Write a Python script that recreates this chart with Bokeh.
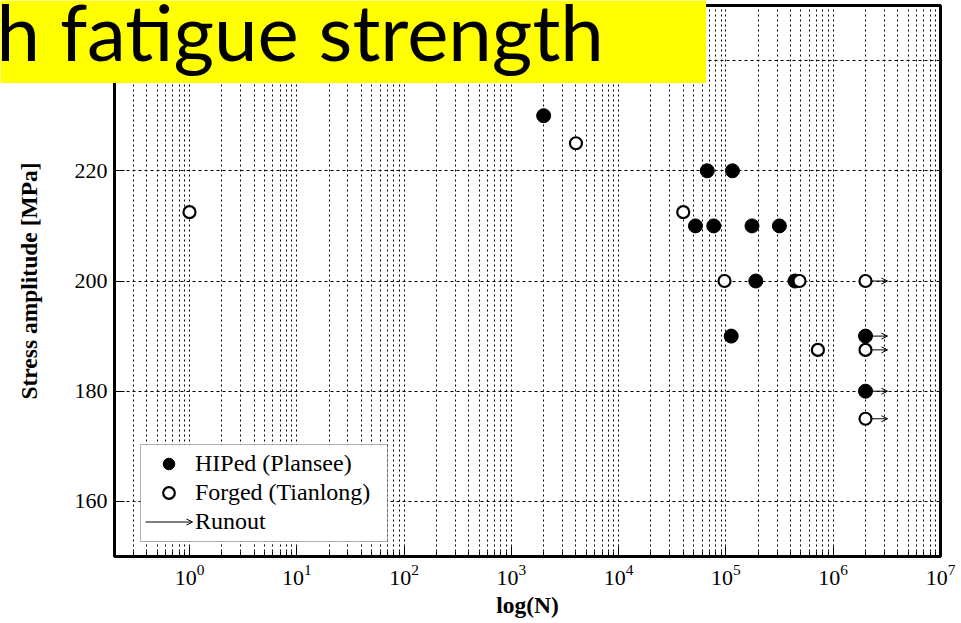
from bokeh.plotting import figure
from bokeh.layouts import column
from bokeh.models import (ColumnDataSource, FixedTicker, Legend, LegendItem,
                          Arrow, OpenHead, Label, Range1d, BoxAnnotation)
from bokeh.embed import file_html
from bokeh.resources import INLINE

# ---------------- data ----------------
hiped_n = [2.0e3, 6.7e4, 1.15e5, 5.2e4, 7.7e4, 1.75e5, 3.15e5, 1.9e5, 4.4e5, 1.12e5]
hiped_s = [230, 220, 220, 210, 210, 210, 210, 200, 200, 190]
hiped_runout_n = [2.0e6, 2.0e6]
hiped_runout_s = [190, 180]

forged_n = [1.0, 4.0e3, 4.0e4, 9.7e4, 4.85e5, 7.2e5]
forged_s = [212.5, 225, 212.5, 200, 200, 187.5]
forged_runout_n = [2.0e6, 2.0e6, 2.0e6]
forged_runout_s = [200, 187.5, 175]

y_ticks = [160, 180, 200, 220, 240]
x_decades = [0, 1, 2, 3, 4, 5, 6, 7]

title_text = "h fatigue strength"
x_label = "log(N)"
y_label = "Stress amplitude [MPa]"
legend_labels = ["HIPed (Plansee)", "Forged (Tianlong)", "Runout"]

# ---------------- styles ----------------
SERIF = "Liberation Serif"
ARROW_FACTOR = 1.6          # runout arrow length (log space), style only
W, H = 961, 623
BL, BR, BT, BB = 114, 21, 5, 67

major_x = [10.0 ** d for d in x_decades]
minor_x = [k * 10.0 ** d for d in range(-1, 7) for k in range(2, 10)]

p = figure(width=W, height=H, x_axis_type="log",
           x_range=Range1d(0.2, 1e7), y_range=Range1d(150, 250),
           output_backend="svg", toolbar_location=None,
           min_border_left=BL, min_border_right=BR,
           min_border_top=BT, min_border_bottom=BB)
p.background_fill_color = "white"
p.border_fill_color = "white"
p.outline_line_color = "black"
p.outline_line_width = 3
try:
    p.frame_align = False
except Exception:
    pass

xt = FixedTicker(ticks=major_x, minor_ticks=minor_x)
p.xaxis.ticker = xt
p.xgrid.ticker = xt
p.yaxis.ticker = FixedTicker(ticks=y_ticks)
p.ygrid.ticker = FixedTicker(ticks=y_ticks)

g = p.xgrid[0]
g.grid_line_color = "black"
g.grid_line_dash = "2 3"
g.grid_line_width = 1
g.minor_grid_line_color = "black"
g.minor_grid_line_dash = "2 3"
g.minor_grid_line_width = 1
p.ygrid.grid_line_color = "black"
p.ygrid.grid_line_dash = "3 3"
p.ygrid.grid_line_width = 1

ax = p.xaxis[0]
ax.axis_line_color = None
ax.major_tick_in = 10
ax.major_tick_out = 0
ax.minor_tick_in = 5
ax.minor_tick_out = 0
ax.major_tick_line_color = "black"
ax.minor_tick_line_color = "black"
ax.major_label_text_font = SERIF
ax.major_label_text_font_size = "22px"
ax.major_label_text_color = "black"
ax.major_label_standoff = 8
ax.axis_label = x_label
ax.axis_label_text_font = SERIF
ax.axis_label_text_font_style = "bold"
ax.axis_label_text_font_size = "23.5px"
ax.axis_label_text_color = "black"
ax.axis_label_standoff = 4

ay = p.yaxis[0]
ay.axis_line_color = None
ay.major_tick_in = 10
ay.major_tick_out = 0
ay.minor_tick_line_color = None
ay.major_label_text_font = SERIF
ay.major_label_text_font_size = "22px"
ay.major_label_text_color = "black"
ay.major_label_standoff = 7
ay.axis_label = y_label
ay.axis_label_text_font = SERIF
ay.axis_label_text_font_style = "bold"
ay.axis_label_text_font_size = "23.5px"
ay.axis_label_text_color = "black"
ay.axis_label_standoff = 30

# ---------------- legend geometry (screen px, relative to the frame) ----------------
LEG_X, LEG_Y = 26, 15
PAD, GW, GH, STANDOFF, LABEL_W = 5, 47, 29, 3, 187
LEG_W = 2 * PAD + GW + STANDOFF + LABEL_W
LEG_H = 2 * PAD + 3 * GH

# white legend box drawn under the (transparent) legend so the icon arrow can sit on top
p.add_layout(BoxAnnotation(left=LEG_X, right=LEG_X + LEG_W, bottom=LEG_Y, top=LEG_Y + LEG_H,
                           left_units="screen", right_units="screen",
                           bottom_units="screen", top_units="screen",
                           fill_color="white", fill_alpha=1,
                           line_color="black", line_width=1, level="glyph"))

# ---------------- runout arrows ----------------
run_n = hiped_runout_n + forged_runout_n
run_s = hiped_runout_s + forged_runout_s
run_src = ColumnDataSource(dict(x0=run_n, x1=[v * ARROW_FACTOR for v in run_n], y=run_s))
r_run = p.segment(x0="x0", y0="y", x1="x1", y1="y", source=run_src,
                  line_color="black", line_width=1)
p.add_layout(Arrow(end=OpenHead(size=6, line_width=1, line_color="black"),
                   x_start="x0", y_start="y", x_end="x1", y_end="y",
                   source=run_src, line_alpha=0))

# ---------------- markers ----------------
hip_src = ColumnDataSource(dict(n=hiped_n + hiped_runout_n, s=hiped_s + hiped_runout_s))
for_src = ColumnDataSource(dict(n=forged_n + forged_runout_n, s=forged_s + forged_runout_s))
r_hip = p.scatter("n", "s", source=hip_src, marker="circle", size=14,
                  fill_color="black", line_color="black", line_width=1)
r_for = p.scatter("n", "s", source=for_src, marker="circle", size=12,
                  fill_color="white", line_color="black", line_width=2.2)

# ---------------- legend (no border/background: its padding is not applied) ----------------
legend = Legend(items=[LegendItem(label=legend_labels[0], renderers=[r_hip]),
                       LegendItem(label=legend_labels[1], renderers=[r_for]),
                       LegendItem(label=legend_labels[2], renderers=[r_run])],
                location=(LEG_X + PAD, LEG_Y + PAD), orientation="vertical")
legend.glyph_width = GW
legend.glyph_height = GH
legend.padding = PAD
legend.spacing = 0
legend.label_height = 20
legend.label_width = LABEL_W
legend.margin = 0
legend.label_standoff = STANDOFF
legend.label_text_font = SERIF
legend.label_text_font_size = "24px"
legend.label_text_color = "black"
legend.border_line_color = None
legend.background_fill_alpha = 0
p.add_layout(legend)

# arrow head on the legend's runout icon (bottom row)
icon_x_end = LEG_X + PAD + GW
icon_y = LEG_Y + PAD + GH / 2
p.add_layout(Arrow(end=OpenHead(size=6, line_width=1, line_color="black"),
                   x_start=icon_x_end - 10, y_start=icon_y, x_end=icon_x_end, y_end=icon_y,
                   start_units="screen", end_units="screen", line_alpha=0))

# ---------------- title box (overlaid on the top-left corner) ----------------
t = figure(width=706, height=83, x_range=Range1d(0, 1), y_range=Range1d(0, 1),
           x_axis_location=None, y_axis_location=None,
           output_backend="svg", toolbar_location=None,
           min_border=0, min_border_left=0, min_border_right=0,
           min_border_top=0, min_border_bottom=0)
t.background_fill_color = "#ffff00"
t.border_fill_color = "#ffff00"
t.outline_line_color = None
try:
    t.frame_align = False
except Exception:
    pass
try:
    t.grid.visible = False
except Exception:
    pass
t.add_layout(Label(x=-4, y=53, x_units="screen", y_units="screen",
                   text=title_text, text_font="Lato", text_font_size="78px",
                   text_color="black", text_baseline="alphabetic"))
t.margin = (0, 0, -83, 0)
t.styles = {"position": "relative", "z-index": "10"}

layout = column(t, p, spacing=0)
open("out.html", "w").write(file_html(layout, INLINE))
